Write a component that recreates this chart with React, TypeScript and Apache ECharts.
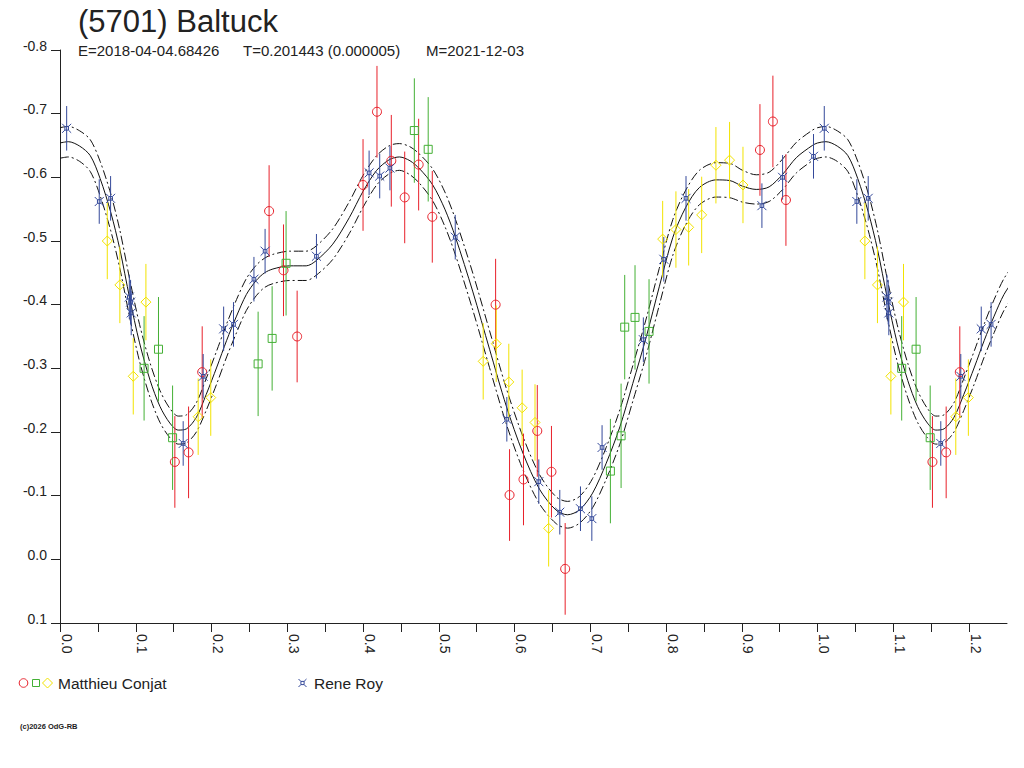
import React, { useEffect, useRef } from "react";
import * as echarts from "echarts";

// ---- Fitted light curve ----
const fitPhase = [0, 0.011, 0.026, 0.04, 0.053, 0.067, 0.079, 0.092, 0.105, 0.119, 0.132, 0.145, 0.156, 0.167, 0.18, 0.193, 0.207, 0.22, 0.233, 0.246, 0.259, 0.27, 0.281, 0.303, 0.325, 0.338, 0.36, 0.382, 0.4, 0.418, 0.435, 0.448, 0.462, 0.475, 0.492, 0.508, 0.522, 0.545, 0.567, 0.589, 0.611, 0.633, 0.655, 0.67, 0.686, 0.703, 0.721, 0.739, 0.756, 0.774, 0.791, 0.809, 0.826, 0.844, 0.866, 0.884, 0.901, 0.919, 0.936, 0.954, 0.972, 0.993];
const fitMag = [-0.654, -0.656, -0.649, -0.634, -0.598, -0.545, -0.487, -0.41, -0.34, -0.281, -0.24, -0.214, -0.203, -0.205, -0.223, -0.259, -0.302, -0.344, -0.382, -0.416, -0.438, -0.45, -0.456, -0.461, -0.461, -0.469, -0.495, -0.537, -0.578, -0.611, -0.628, -0.632, -0.626, -0.613, -0.588, -0.55, -0.506, -0.42, -0.33, -0.241, -0.167, -0.11, -0.077, -0.07, -0.078, -0.104, -0.151, -0.208, -0.276, -0.35, -0.428, -0.506, -0.553, -0.584, -0.596, -0.595, -0.586, -0.581, -0.585, -0.605, -0.631, -0.65];
const fitSigma = [0.024, 0.024, 0.024, 0.025, 0.027, 0.029, 0.03, 0.03, 0.029, 0.027, 0.025, 0.023, 0.022, 0.022, 0.023, 0.025, 0.026, 0.026, 0.026, 0.025, 0.024, 0.023, 0.023, 0.023, 0.023, 0.023, 0.024, 0.025, 0.025, 0.023, 0.022, 0.021, 0.022, 0.023, 0.025, 0.027, 0.028, 0.029, 0.029, 0.028, 0.026, 0.023, 0.021, 0.021, 0.021, 0.023, 0.025, 0.027, 0.028, 0.029, 0.029, 0.028, 0.027, 0.027, 0.027, 0.027, 0.025, 0.023, 0.023, 0.024, 0.024, 0.024];

// ---- Matthieu Conjat, session 1 (red circles) ----
const redPhase = [0.1516, 0.1697, 0.1877, 0.276, 0.295, 0.313, 0.4, 0.4184, 0.4373, 0.455, 0.4734, 0.4914, 0.575, 0.5934, 0.6118, 0.63, 0.6487, 0.6668, 0.9239, 0.941, 0.9582];
const redMag = [-0.153, -0.168, -0.294, -0.547, -0.454, -0.35, -0.588, -0.703, -0.626, -0.5685, -0.62, -0.538, -0.4, -0.101, -0.1255, -0.2017, -0.1375, 0.015, -0.643, -0.6877, -0.5644];
const redErr = 0.072;

// ---- Matthieu Conjat, session 2 (green squares) ----
const greenPhase = [0.111, 0.13, 0.1486, 0.2615, 0.28, 0.2984, 0.4677, 0.486, 0.7265, 0.7406, 0.7454, 0.759, 0.7775];
const greenMag = [-0.3, -0.33, -0.191, -0.307, -0.347, -0.465, -0.6735, -0.644, -0.1386, -0.194, -0.3647, -0.38, -0.358];
const greenErr = 0.082;

// ---- Matthieu Conjat, session 3 (yellow diamonds) ----
const yellowPhase = [0.0624, 0.079, 0.0967, 0.1134, 0.1824, 0.199, 0.5586, 0.5758, 0.5924, 0.61, 0.627, 0.645, 0.7955, 0.813, 0.8298, 0.847, 0.8658, 0.8838, 0.9015];
const yellowMag = [-0.5, -0.431, -0.2875, -0.404, -0.224, -0.254, -0.311, -0.3387, -0.2786, -0.238, -0.215, -0.0487, -0.503, -0.518, -0.5215, -0.541, -0.619, -0.627, -0.588];
const yellowErr = 0.06;

// ---- Rene Roy (blue) ----
const bluePhase = [0.0088, 0.0518, 0.0668, 0.0915, 0.0932, 0.094, 0.1626, 0.189, 0.216, 0.229, 0.256, 0.2707, 0.3385, 0.408, 0.422, 0.4355, 0.5217, 0.5898, 0.632, 0.6597, 0.687, 0.702, 0.7155, 0.77, 0.797, 0.8263, 0.9265, 0.9538, 0.9946];
const blueMag = [-0.677, -0.562, -0.567, -0.412, -0.404, -0.387, -0.182, -0.2875, -0.362, -0.369, -0.44, -0.484, -0.476, -0.607, -0.602, -0.6146, -0.506, -0.22, -0.122, -0.074, -0.0795, -0.064, -0.1757, -0.345, -0.4713, -0.567, -0.5555, -0.6, -0.633];
const blueErr = 0.035;

// ---- Axes ----
const xTickValues = [0, 0.05, 0.1, 0.15, 0.2, 0.25, 0.3, 0.35, 0.4, 0.45, 0.5, 0.55, 0.6, 0.65, 0.7, 0.75, 0.8, 0.85, 0.9, 0.95, 1.0, 1.05, 1.1, 1.15, 1.2];
const xLabelValues = [0, 0.1, 0.2, 0.3, 0.4, 0.5, 0.6, 0.7, 0.8, 0.9, 1.0, 1.1, 1.2];
const yTickValues = [-0.8, -0.7, -0.6, -0.5, -0.4, -0.3, -0.2, -0.1, 0, 0.1];
const X_MAX = 1.25;

const titleText = "(5701) Baltuck";
const subE = "E=2018-04-04.68426";
const subT = "T=0.201443 (0.000005)";
const subM = "M=2021-12-03";
const observer1 = "Matthieu Conjat";
const observer2 = "Rene Roy";
const footText = "(c)2026 OdG-RB";

const RED = "#e8202a";
const GREEN = "#44b035";
const YELLOW = "#f2e300";
const BLUE = "#34499a";
const INK = "#222222";
const FONT = "'Liberation Sans', Arial, Helvetica, sans-serif";
const BLUE_SYMBOL = "path://M0,0L3,3M10,0L7,3M0,10L3,7M10,10L7,7M3,3L7,3L7,7L3,7Z";

// phase-folded: show each point at phase and phase+1 (within axis range)
function fold(ph: number[], vals: number[], extra = 0): number[][] {
  const out: number[][] = [];
  ph.forEach((p, i) => out.push([p, vals[i]]));
  ph.forEach((p, i) => {
    if (p + 1 <= X_MAX + extra) out.push([p + 1, vals[i]]);
  });
  return out;
}

function fmt(v: number) {
  const r = Math.abs(v) < 1e-9 ? 0 : v;
  return r.toFixed(1);
}

function errSeries(pts: number[][], err: number, color: string) {
  return {
    type: "custom",
    silent: true,
    clip: true,
    z: 3,
    encode: { x: 0, y: 1 },
    data: pts,
    renderItem: (_params: any, api: any) => {
      const x = api.value(0);
      const y = api.value(1);
      const a = api.coord([x, y - err]);
      const b = api.coord([x, y + err]);
      return {
        type: "line",
        shape: { x1: a[0], y1: a[1], x2: b[0], y2: b[1] },
        style: { stroke: color, lineWidth: 1 },
      };
    },
  };
}

function markSeries(pts: number[][], symbol: string, size: number, color: string) {
  return {
    type: "scatter",
    silent: true,
    z: 4,
    data: pts,
    symbol,
    symbolSize: size,
    itemStyle: { color: "rgba(0,0,0,0)", borderColor: color, borderWidth: 1, opacity: 1 },
  };
}

export default function App() {
  const ref = useRef<HTMLDivElement>(null);
  useEffect(() => {
    if (!ref.current) return;
    const chart = echarts.init(ref.current, undefined, { renderer: "svg" });

    const fitPts = fold(fitPhase, fitMag, 0.03);
    const upPts = fold(fitPhase, fitMag.map((m, i) => m - fitSigma[i]), 0.03);
    const loPts = fold(fitPhase, fitMag.map((m, i) => m + fitSigma[i]), 0.03);

    const red = fold(redPhase, redMag);
    const green = fold(greenPhase, greenMag);
    const yellow = fold(yellowPhase, yellowMag);
    const blue = fold(bluePhase, blueMag);

    const dashDot = [9, 3, 2, 3];

    const option: any = {
      animation: false,
      backgroundColor: "#ffffff",
      textStyle: { fontFamily: FONT },
      grid: { left: 60, top: 50, width: 947, height: 573 },
      xAxis: {
        type: "value",
        min: 0,
        max: X_MAX,
        interval: 0.1,
        axisLine: { show: true, onZero: false, lineStyle: { color: INK, width: 1 } },
        axisTick: { show: true, length: 9, customValues: xTickValues, lineStyle: { color: INK } },
        axisLabel: {
          customValues: xLabelValues,
          formatter: (v: number) => fmt(v),
          rotate: -90,
          margin: 11,
          fontSize: 14,
          color: INK,
          fontFamily: FONT,
          verticalAlign: "bottom",
          lineHeight: 13,
        },
        splitLine: { show: false },
      },
      yAxis: {
        type: "value",
        min: -0.8,
        max: 0.1,
        interval: 0.1,
        inverse: true,
        axisLine: { show: true, onZero: false, lineStyle: { color: INK, width: 1 } },
        axisTick: { show: true, length: 9, customValues: yTickValues, lineStyle: { color: INK } },
        axisLabel: {
          customValues: yTickValues,
          formatter: (v: number) => fmt(v),
          margin: 13,
          fontSize: 14,
          color: INK,
          fontFamily: FONT,
          verticalAlign: "bottom",
          lineHeight: 9,
        },
        splitLine: { show: false },
      },
      series: [
        {
          type: "line",
          data: fitPts,
          showSymbol: false,
          smooth: 0.3,
          silent: true,
          z: 2,
          lineStyle: { color: "#111111", width: 1 },
        },
        {
          type: "line",
          data: upPts,
          showSymbol: false,
          smooth: 0.3,
          silent: true,
          z: 2,
          lineStyle: { color: "#111111", width: 1, type: dashDot },
        },
        {
          type: "line",
          data: loPts,
          showSymbol: false,
          smooth: 0.3,
          silent: true,
          z: 2,
          lineStyle: { color: "#111111", width: 1, type: dashDot },
        },
        errSeries(red, redErr, RED),
        errSeries(green, greenErr, GREEN),
        errSeries(yellow, yellowErr, YELLOW),
        errSeries(blue, blueErr, BLUE),
        markSeries(red, "circle", 9, RED),
        markSeries(green, "rect", 8, GREEN),
        markSeries(yellow, "diamond", 10, YELLOW),
        markSeries(blue, BLUE_SYMBOL, 9, BLUE),
      ],
      graphic: [
        {
          type: "text",
          x: 78,
          y: 21,
          style: { text: titleText, fontSize: 31, fontFamily: FONT, fill: INK, verticalAlign: "middle" },
        },
        {
          type: "text",
          x: 78,
          y: 50,
          style: { text: subE, fontSize: 15, fontFamily: FONT, fill: INK, verticalAlign: "middle" },
        },
        {
          type: "text",
          x: 243,
          y: 50,
          style: { text: subT, fontSize: 15, fontFamily: FONT, fill: INK, verticalAlign: "middle" },
        },
        {
          type: "text",
          x: 426,
          y: 50,
          style: { text: subM, fontSize: 15, fontFamily: FONT, fill: INK, verticalAlign: "middle" },
        },
        // legend
        {
          type: "circle",
          shape: { cx: 23.5, cy: 683, r: 4.3 },
          style: { fill: "none", stroke: RED, lineWidth: 1 },
        },
        {
          type: "rect",
          shape: { x: 32.5, y: 679.5, width: 7, height: 7 },
          style: { fill: "none", stroke: GREEN, lineWidth: 1 },
        },
        {
          type: "polygon",
          shape: { points: [[47.5, 678], [52.5, 683], [47.5, 688], [42.5, 683]] },
          style: { fill: "none", stroke: YELLOW, lineWidth: 1 },
        },
        {
          type: "text",
          x: 58,
          y: 683,
          style: { text: observer1, fontSize: 15.5, fontFamily: FONT, fill: INK, verticalAlign: "middle" },
        },
        {
          type: "group",
          x: 298.5,
          y: 679,
          children: [
            { type: "line", shape: { x1: 0, y1: 0, x2: 2.4, y2: 2.4 }, style: { stroke: BLUE, lineWidth: 1 } },
            { type: "line", shape: { x1: 8, y1: 0, x2: 5.6, y2: 2.4 }, style: { stroke: BLUE, lineWidth: 1 } },
            { type: "line", shape: { x1: 0, y1: 8, x2: 2.4, y2: 5.6 }, style: { stroke: BLUE, lineWidth: 1 } },
            { type: "line", shape: { x1: 8, y1: 8, x2: 5.6, y2: 5.6 }, style: { stroke: BLUE, lineWidth: 1 } },
            { type: "rect", shape: { x: 2.4, y: 2.4, width: 3.2, height: 3.2 }, style: { fill: "none", stroke: BLUE, lineWidth: 1 } },
          ],
        },
        {
          type: "text",
          x: 314,
          y: 683,
          style: { text: observer2, fontSize: 15.5, fontFamily: FONT, fill: INK, verticalAlign: "middle" },
        },
        {
          type: "text",
          x: 20,
          y: 726,
          style: { text: footText, fontSize: 7.5, fontWeight: "bold", fontFamily: FONT, fill: INK, verticalAlign: "middle" },
        },
      ],
    };

    chart.setOption(option);
    return () => chart.dispose();
  }, []);

  return (
    <div
      ref={ref}
      style={{ position: "absolute", left: 0, top: 0, width: 1024, height: 768, background: "#fff" }}
    />
  );
}
